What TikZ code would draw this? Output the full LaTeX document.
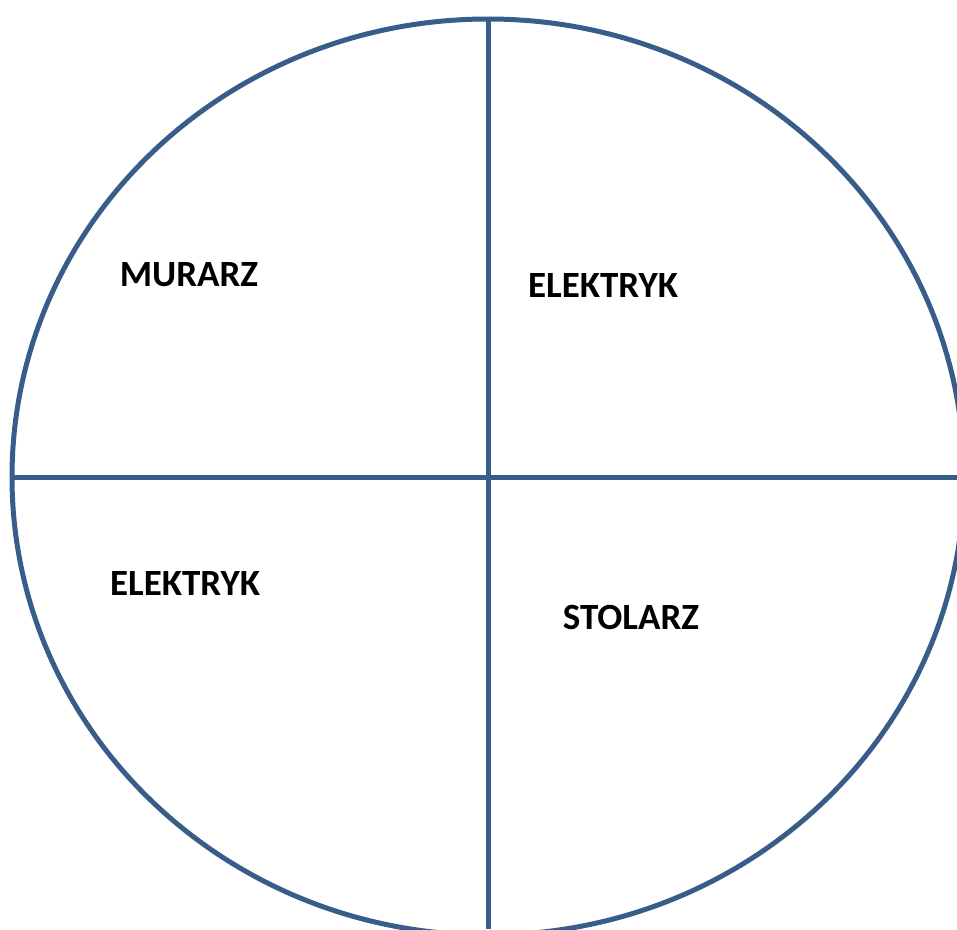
\documentclass[tikz,border=0pt]{standalone}
\usepackage{fontspec}
\setmainfont{Carlito}
\usepackage{tikz}
\usetikzlibrary{positioning}
\definecolor{ringblue}{RGB}{56,93,138}

\begin{document}
\begin{tikzpicture}[
        x=1pt, y=-1pt,
        % Style cho đường và chữ
        ring/.style={draw=ringblue, line width=5pt},
        jobname/.style={font=\fontsize{37}{44}\selectfont\bfseries, text=black, inner sep=0pt}
    ]

        \useasboundingbox (0,0) rectangle (957,929);
        \clip (0,0) rectangle (957,929);

        % Hình tròn và đường chia
        \coordinate (mid) at (488,477);
        \draw[ring] (mid) ellipse [x radius=476, y radius=458];
        \draw[ring] (488,19) -- (mid) -- (488,929);
        \draw[ring] (12,477) -- (mid) -- (957,477);

        % Nhãn
        \node[jobname] (murarz) at (189,275) {MURARZ};
        \node[jobname] (elek1) at (603,285) {ELEKTRYK};
        \node[jobname] (elek2) at (185,583) {ELEKTRYK};
        \node[jobname] (stolarz) at (631,617) {STOLARZ};

    \end{tikzpicture}
\end{document}
